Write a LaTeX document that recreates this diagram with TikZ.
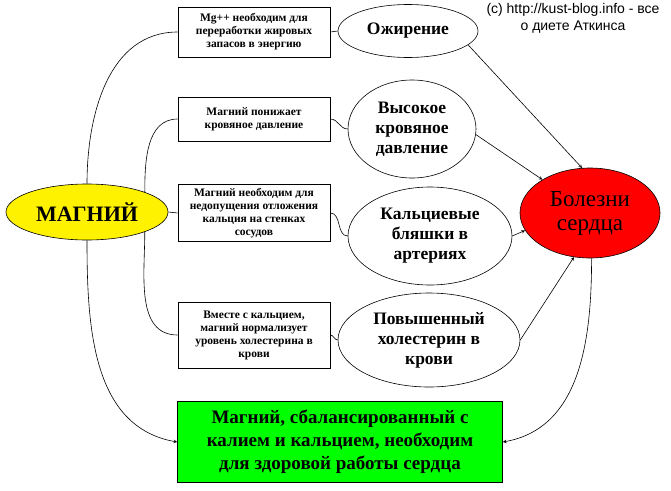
\documentclass[tikz,border=0pt]{standalone}
\usepackage{fontspec}
\setmainfont{Liberation Serif}
\newfontfamily\sansf{Liberation Sans}
\usetikzlibrary{shapes.geometric}
\begin{document}
\begin{tikzpicture}[x=1pt,y=-1pt,line width=0.6pt,>=stealth,
    fact/.style={draw,rectangle,minimum width=152,align=center,inner sep=1pt,
        font=\bfseries\fontsize{11.5}{13}\selectfont},
    cause/.style={draw,ellipse,inner sep=0pt,align=center,
        font=\bfseries\fontsize{17.5}{20}\selectfont}]
    \useasboundingbox (0,0) rectangle (671,490);
    % main nodes
    \node[draw,ellipse,fill=yellow,minimum width=162,minimum height=56,inner sep=0pt,
        font=\bfseries\fontsize{22}{24}\selectfont] (mg) at (87,212) {МАГНИЙ};
    \node[draw,ellipse,fill=red,minimum width=140,minimum height=90,inner sep=0pt,align=center,
        font=\fontsize{23}{24}\selectfont] (heart) at (590,213) {Болезни\\сердца};
    \node[draw,rectangle,fill=green,minimum width=325,minimum height=81,align=center,
        font=\bfseries\fontsize{19}{23}\selectfont] (green) at (340,442)
        {Магний, сбалансированный с\\калием и кальцием, необходим\\для здоровой работы сердца};
    % facts
    \node[fact,minimum height=50] (f1) at (254,32) {Mg++ необходим для\\переработки жировых\\запасов в энергию};
    \node[fact,minimum height=44] (f2) at (254,119) {Магний понижает\\кровяное давление};
    \node[fact,minimum height=57] (f3) at (254,213) {Магний необходим для\\недопущения отложения\\кальция на стенках\\сосудов};
    \node[fact,minimum height=66] (f4) at (254,335) {Вместе с кальцием,\\магний нормализует\\уровень холестерина в\\крови};
    % causes
    \node[cause,minimum width=140,minimum height=53] (c1) at (408,31) {Ожирение};
    \node[cause,minimum width=128,minimum height=98] (c2) at (412,129) {Высокое\\кровяное\\давление};
    \node[cause,minimum width=164,minimum height=98] (c3) at (430,236) {Кальциевые\\бляшки в\\артериях};
    \node[cause,minimum width=182,minimum height=94] (c4) at (429,340) {Повышенный\\холестерин в\\крови};
    \node[font=\sansf\fontsize{14}{17}\selectfont,align=center] (copy) at (573,18)
        {(c) http://kust-blog.info - все\\о диете Аткинса};
    % connectors
    \draw (mg.north) to[out=90,in=180] (f1.west);
    \draw (mg.19) to[out=90,in=180] (f2.west);
    \draw (mg.east) -- (f3.west);
    \draw (mg.-19) to[out=-90,in=180] (f4.west);
    \draw[->] (mg.south) to[out=-90,in=170] (green.west);
    \foreach \n in {1,2,3,4}
        \draw (f\n.east) to[out=0,in=180] (c\n.west);
    \draw[->] (c1.-13) -- (heart.100);
    \draw[->] (c2.-5) -- (heart.145);
    \draw[->] (c3.east) -- (heart.195);
    \draw[->] (c4.east) -- (heart.-110);
    \draw[->] (heart.-88) to[out=-90,in=10] (green.east);
\end{tikzpicture}
\end{document}
